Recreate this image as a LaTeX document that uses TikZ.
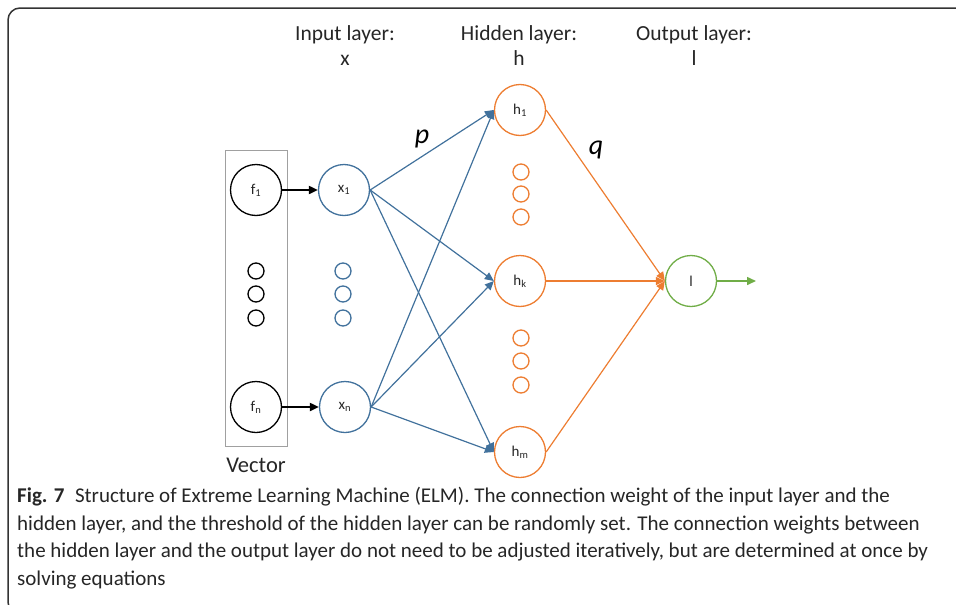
\documentclass[tikz,border=0pt]{standalone}
\usepackage{fontspec}
\setmainfont{Carlito}
\usetikzlibrary{arrows.meta}
\definecolor{elmblue}{RGB}{65,113,156}
\definecolor{elmorange}{RGB}{237,125,49}
\definecolor{elmgreen}{RGB}{112,173,71}
\definecolor{boxgray}{RGB}{160,160,160}

\begin{document}
\begin{tikzpicture}[x=1pt,y=-1pt,
    neuron/.style={circle,draw=#1,line width=1.3pt,minimum size=51pt,inner sep=0pt,
      text=black!85,font=\fontsize{15}{17}\selectfont},
    small dot/.style={circle,draw=#1,line width=1.3pt,minimum size=16pt,inner sep=0pt},
    head/.style={font=\fontsize{21.5}{25}\selectfont,align=center,text=black!85},
    weight/.style={font=\fontsize{28}{30}\selectfont\itshape},
    tip/.style={-{Triangle[length=9pt,width=8pt]}},
    wire blue/.style={tip,elmblue,line width=1.2pt},
    wire orange/.style={tip,elmorange,line width=1.2pt}]
  \useasboundingbox (0,0) rectangle (956,605);
  % frame
  \draw[line width=1.5pt,black!80,rounded corners=12pt] (970,8) -- (8,8) -- (8,614) -- (970,614);

  % headings
  \node[head] (in head)  at (345,46) {Input layer:\\x};
  \node[head] (hid head) at (519,46) {Hidden layer:\\h};
  \node[head] (out head) at (694,46) {Output layer:\\l};

  % vector box
  \draw[boxgray,line width=1pt] (225,150) rectangle (287,446);
  \node[font=\fontsize{22.5}{24}\selectfont,text=black!85] (vector) at (256,465) {Vector};

  % neurons
  \node[neuron=black]     (f1)  at (256,190) {f\textsubscript{1}};
  \node[neuron=black]     (fn)  at (256,407) {f\textsubscript{n}};
  \node[neuron=elmblue]   (x1)  at (344,190) {x\textsubscript{1}};
  \node[neuron=elmblue]   (xn)  at (345,407) {x\textsubscript{n}};
  \node[neuron=elmorange] (h1)  at (520,110) {h\textsubscript{1}};
  \node[neuron=elmorange] (hk)  at (520,281) {h\textsubscript{k}};
  \node[neuron=elmorange] (hm)  at (520,452) {h\textsubscript{m}};
  \node[neuron=elmgreen]  (out) at (691,281) {l};
  \coordinate (out end) at (756,281);

  % dots
  \foreach \y in {271,294,318} {
    \node[small dot=black]   at (256,\y) {};
    \node[small dot=elmblue] at (343,\y) {};
  }
  \foreach \y in {172,194,217,338,361,385}
    \node[small dot=elmorange] at (521,\y) {};

  % connections
  \draw[tip,line width=2pt] (f1) -- (x1);
  \draw[tip,line width=2pt] (fn) -- (xn);
  \foreach \h in {h1,hk,hm} {
    \draw[wire blue] (x1.east) -- (\h.west);
    \draw[wire blue] (xn.east) -- (\h.west);
    \draw[wire orange] (\h.east) -- (out.west);
  }
  \draw[tip,elmgreen,line width=1.5pt] (out) -- (out end);

  \node[weight] (p) at (422,139) {p};
  \node[weight] (q) at (596,150) {q};

  % caption
  \node[anchor=north west,align=left,inner sep=0pt,text=black!85,
    font=\fontsize{21}{27.5}\selectfont] (caption) at (17,487)
    {\textbf{Fig. 7}\enspace Structure of Extreme Learning Machine (ELM). The connection weight of the input layer and the\\
     hidden layer, and the threshold of the hidden layer can be randomly set. The connection weights between\\
     the hidden layer and the output layer do not need to be adjusted iteratively, but are determined at once by\\
     solving equations};
\end{tikzpicture}
\end{document}
